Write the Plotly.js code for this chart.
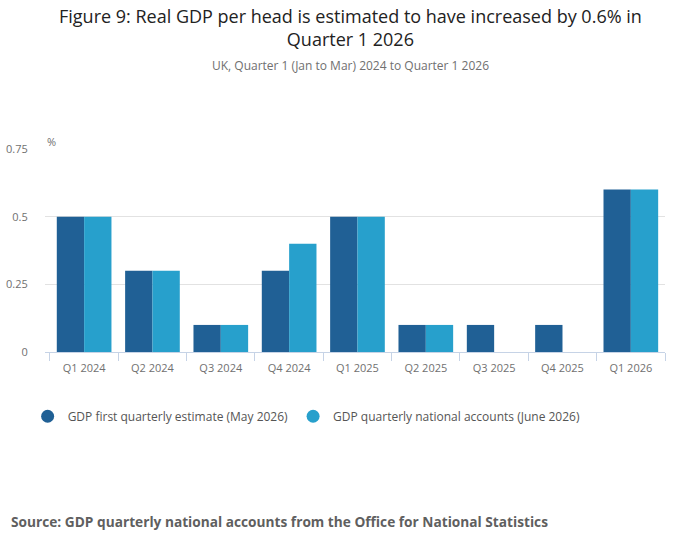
<!DOCTYPE html>
<html>
<head>
<meta charset="utf-8">
<script src="https://cdn.plot.ly/plotly-3.0.1.min.js"></script>
<style>
  html, body { margin: 0; padding: 0; background: #fff; }
  #chart { width: 700px; height: 549px; }
</style>
</head>
<body>
<div id="chart"></div>
<script>
var quarters = ['Q1 2024', 'Q2 2024', 'Q3 2024', 'Q4 2024', 'Q1 2025', 'Q2 2025', 'Q3 2025', 'Q4 2025', 'Q1 2026'];
var firstEstimate = [0.5, 0.3, 0.1, 0.3, 0.5, 0.1, 0.1, 0.1, 0.6];
var nationalAccounts = [0.5, 0.3, 0.1, 0.4, 0.5, 0.1, null, null, 0.6];
var seriesNames = ['GDP first quarterly estimate (May 2026)', 'GDP quarterly national accounts (June 2026)'];
var colours = ['#206095', '#27a0cc'];
var yTicks = [0, 0.25, 0.5, 0.75];
var yTickText = ['0', '0.25', '0.5', '0.75'];

var font = 'Open Sans, sans-serif';

var trace1 = {
  x: quarters,
  y: firstEstimate,
  name: seriesNames[0],
  type: 'bar',
  marker: { color: colours[0] },
  showlegend: false,
  hovertemplate: '%{x}: %{y}<extra></extra>'
};

var trace2 = {
  x: quarters,
  y: nationalAccounts,
  name: seriesNames[1],
  type: 'bar',
  marker: { color: colours[1] },
  showlegend: false,
  hovertemplate: '%{x}: %{y}<extra></extra>'
};

// legend entries with round markers
var legend1 = {
  x: [quarters[0]], y: [null], type: 'scatter', mode: 'markers',
  name: seriesNames[0], marker: { color: colours[0], size: 13, symbol: 'circle' },
  hoverinfo: 'skip'
};
var legend2 = {
  x: [quarters[0]], y: [null], type: 'scatter', mode: 'markers',
  name: seriesNames[1], marker: { color: colours[1], size: 13, symbol: 'circle' },
  hoverinfo: 'skip'
};

var data = [trace1, trace2, legend1, legend2];

var layout = {
  width: 700,
  height: 549,
  margin: { l: 45, r: 35, t: 149, b: 197 },
  paper_bgcolor: '#fff',
  plot_bgcolor: '#fff',
  font: { family: font, color: '#707070', size: 11 },
  barmode: 'group',
  bargap: 0.2,
  bargroupgap: 0,
  xaxis: {
    type: 'category',
    automargin: false,
    tickson: 'boundaries',
    ticks: 'outside',
    ticklen: 8,
    tickcolor: '#c6d3e6',
    ticklabelstandoff: 6,
    showline: true,
    linecolor: '#c6d3e6',
    linewidth: 1,
    showgrid: false,
    tickfont: { family: font, size: 11, color: '#707070' },
    fixedrange: true
  },
  yaxis: {
    range: [0, 0.75],
    automargin: false,
    tickvals: yTicks,
    ticktext: yTickText,
    showgrid: true,
    gridcolor: '#e2e2e2',
    gridwidth: 1,
    zeroline: false,
    ticks: 'outside',
    ticklen: 14,
    tickcolor: 'rgba(0,0,0,0)',
    tickfont: { family: font, size: 11, color: '#707070' },
    fixedrange: true
  },
  legend: {
    orientation: 'h',
    x: -0.028, xanchor: 'left',
    y: -0.245, yanchor: 'top',
    font: { family: font, size: 12, color: '#555555' },
    itemclick: false,
    itemdoubleclick: false
  },
  annotations: [
    {
      text: 'Figure 9: Real GDP per head is estimated to have increased by 0.6% in<br>Quarter 1 2026',
      xref: 'paper', yref: 'paper',
      x: 0.492, y: 1.6, xanchor: 'center', yanchor: 'middle',
      showarrow: false,
      font: { family: font, size: 18, color: '#222222' }
    },
    {
      text: 'UK, Quarter 1 (Jan to Mar) 2024 to Quarter 1 2026',
      xref: 'paper', yref: 'paper',
      x: 0.492, y: 1.413, xanchor: 'center', yanchor: 'middle',
      showarrow: false,
      font: { family: font, size: 12, color: '#707070' }
    },
    {
      text: '%',
      xref: 'paper', yref: 'paper',
      x: 0, y: 1.035, xanchor: 'left', yanchor: 'middle',
      showarrow: false,
      font: { family: font, size: 11, color: '#707070' }
    },
    {
      text: '<b>Source: GDP quarterly national accounts from the Office for National Statistics</b>',
      xref: 'paper', yref: 'paper',
      x: -0.058, y: -0.834, xanchor: 'left', yanchor: 'middle',
      showarrow: false,
      font: { family: font, size: 13.7, color: '#5f5f5f' }
    }
  ]
};

Plotly.newPlot('chart', data, layout, { displayModeBar: false });
</script>
</body>
</html>
